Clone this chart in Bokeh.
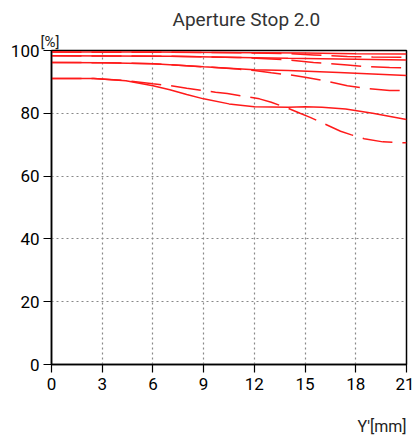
from bokeh.plotting import figure
from bokeh.models import Range1d, FixedTicker, Title
from bokeh.embed import file_html
from bokeh.resources import INLINE

# Image height Y' [mm]
x_s5 = [0, 6, 12, 15, 18, 21]
y_s5 = [99.5, 99.5, 99.3, 99.2, 99.0, 98.9]
x_t5 = [0, 9, 12, 14, 15.5, 17.5, 19, 21]
y_t5 = [99.5, 99.4, 99.2, 99.0, 98.6, 98.1, 97.9, 97.8]

x_s10 = [0, 7, 12, 14, 21]
y_s10 = [98.3, 98.2, 97.7, 97.5, 97.0]
x_t10 = [0, 7, 11, 13, 14, 15.5, 17.5, 18.5, 20, 21]
y_t10 = [98.3, 98.2, 97.8, 97.3, 97.0, 96.2, 95.4, 94.9, 94.6, 94.5]

x_s20 = [0, 3, 6, 9, 12, 14, 17, 21]
y_s20 = [96.2, 96.1, 95.8, 94.8, 93.9, 93.6, 93.0, 92.0]
x_t20 = [0, 3, 6, 9, 11, 12, 13, 14, 15, 16, 17.5, 18.5, 20, 21]
y_t20 = [96.2, 96.1, 95.8, 94.8, 94.1, 93.6, 92.9, 92.3, 91.5, 90.5, 88.8, 88.0, 87.3, 87.2]

x_s40 = [0, 2.5, 4.4, 6, 7, 8, 9, 10.5, 12, 14, 15, 16, 17.4, 19, 21]
y_s40 = [91.1, 91.1, 90.4, 88.8, 87.5, 86.0, 84.6, 83.0, 82.1, 81.9, 82.1, 81.9, 81.4, 80.0, 78.0]
x_t40 = [0, 2.5, 4.4, 6, 7, 8, 9.7, 10.4, 12.3, 13, 14, 14.7, 15.3, 16, 17.1, 17.7, 18.5, 19.6, 21]
y_t40 = [91.1, 91.1, 90.4, 89.4, 88.8, 88.0, 86.7, 86.3, 84.6, 83.5, 81.6, 80.0, 78.7, 77.0, 74.3, 73.2, 71.9, 70.9, 70.6]

x_ticks = [0, 3, 6, 9, 12, 15, 18, 21]
y_ticks = [0, 20, 40, 60, 80, 100]

title_text = "Aperture Stop 2.0"
y_unit = "[%]"
x_unit = "Y'[mm]"

FONT = "Roboto"

p = figure(width=414, height=436, output_backend="svg", toolbar_location=None,
           x_range=Range1d(0, 21), y_range=Range1d(0, 100),
           min_border_left=51, min_border_right=8, min_border_top=50, min_border_bottom=71)
p.background_fill_color = "white"
p.outline_line_color = "black"
p.outline_line_width = 1.5

for ax in (p.xaxis[0], p.yaxis[0]):
    ax.axis_line_color = "black"
    ax.axis_line_width = 1.5
    ax.major_tick_line_color = "black"
    ax.major_tick_line_width = 1.2
    ax.major_tick_out = 8
    ax.major_tick_in = 0
    ax.minor_tick_line_color = None
    ax.major_label_text_font = FONT
    ax.major_label_text_font_size = "17px"
    ax.major_label_text_color = "black"
p.xaxis.ticker = FixedTicker(ticks=x_ticks)
p.yaxis.ticker = FixedTicker(ticks=y_ticks)
p.xaxis.major_label_standoff = 5
p.yaxis.major_label_standoff = 4

p.xgrid.ticker = FixedTicker(ticks=x_ticks)
p.ygrid.ticker = FixedTicker(ticks=y_ticks)
for g in (p.xgrid[0], p.ygrid[0]):
    g.grid_line_color = "#888888"
    g.grid_line_dash = "2 3"
    g.grid_line_width = 1.2

red = "#ff1a1a"
for xs, ys in ((x_s5, y_s5), (x_s10, y_s10), (x_s20, y_s20), (x_s40, y_s40)):
    p.line(xs, ys, line_color=red, line_width=1.5)
for xs, ys in ((x_t5, y_t5), (x_t10, y_t10), (x_t20, y_t20), (x_t40, y_t40)):
    p.line(xs, ys, line_color=red, line_width=1.5, line_dash="30 10")

# "[%]" closest to the frame, then the chart title above it
p.add_layout(Title(text=y_unit, align="left", offset=-11, standoff=0,
                   text_font=FONT, text_font_size="15px", text_font_style="normal",
                   text_color="#222222"), "above")
p.add_layout(Title(text=title_text, align="left", offset=121, standoff=0,
                   text_font=FONT, text_font_size="19px", text_font_style="normal",
                   text_color="#333333"), "above")
# x unit below the axis (a blank first line pushes it down)
p.add_layout(Title(text=" \n" + x_unit, align="right", offset=0, standoff=0,
                   text_line_height=1.2,
                   text_font=FONT, text_font_size="16px", text_font_style="normal",
                   text_color="#222222"), "below")

open("out.html", "w").write(file_html(p, INLINE))
